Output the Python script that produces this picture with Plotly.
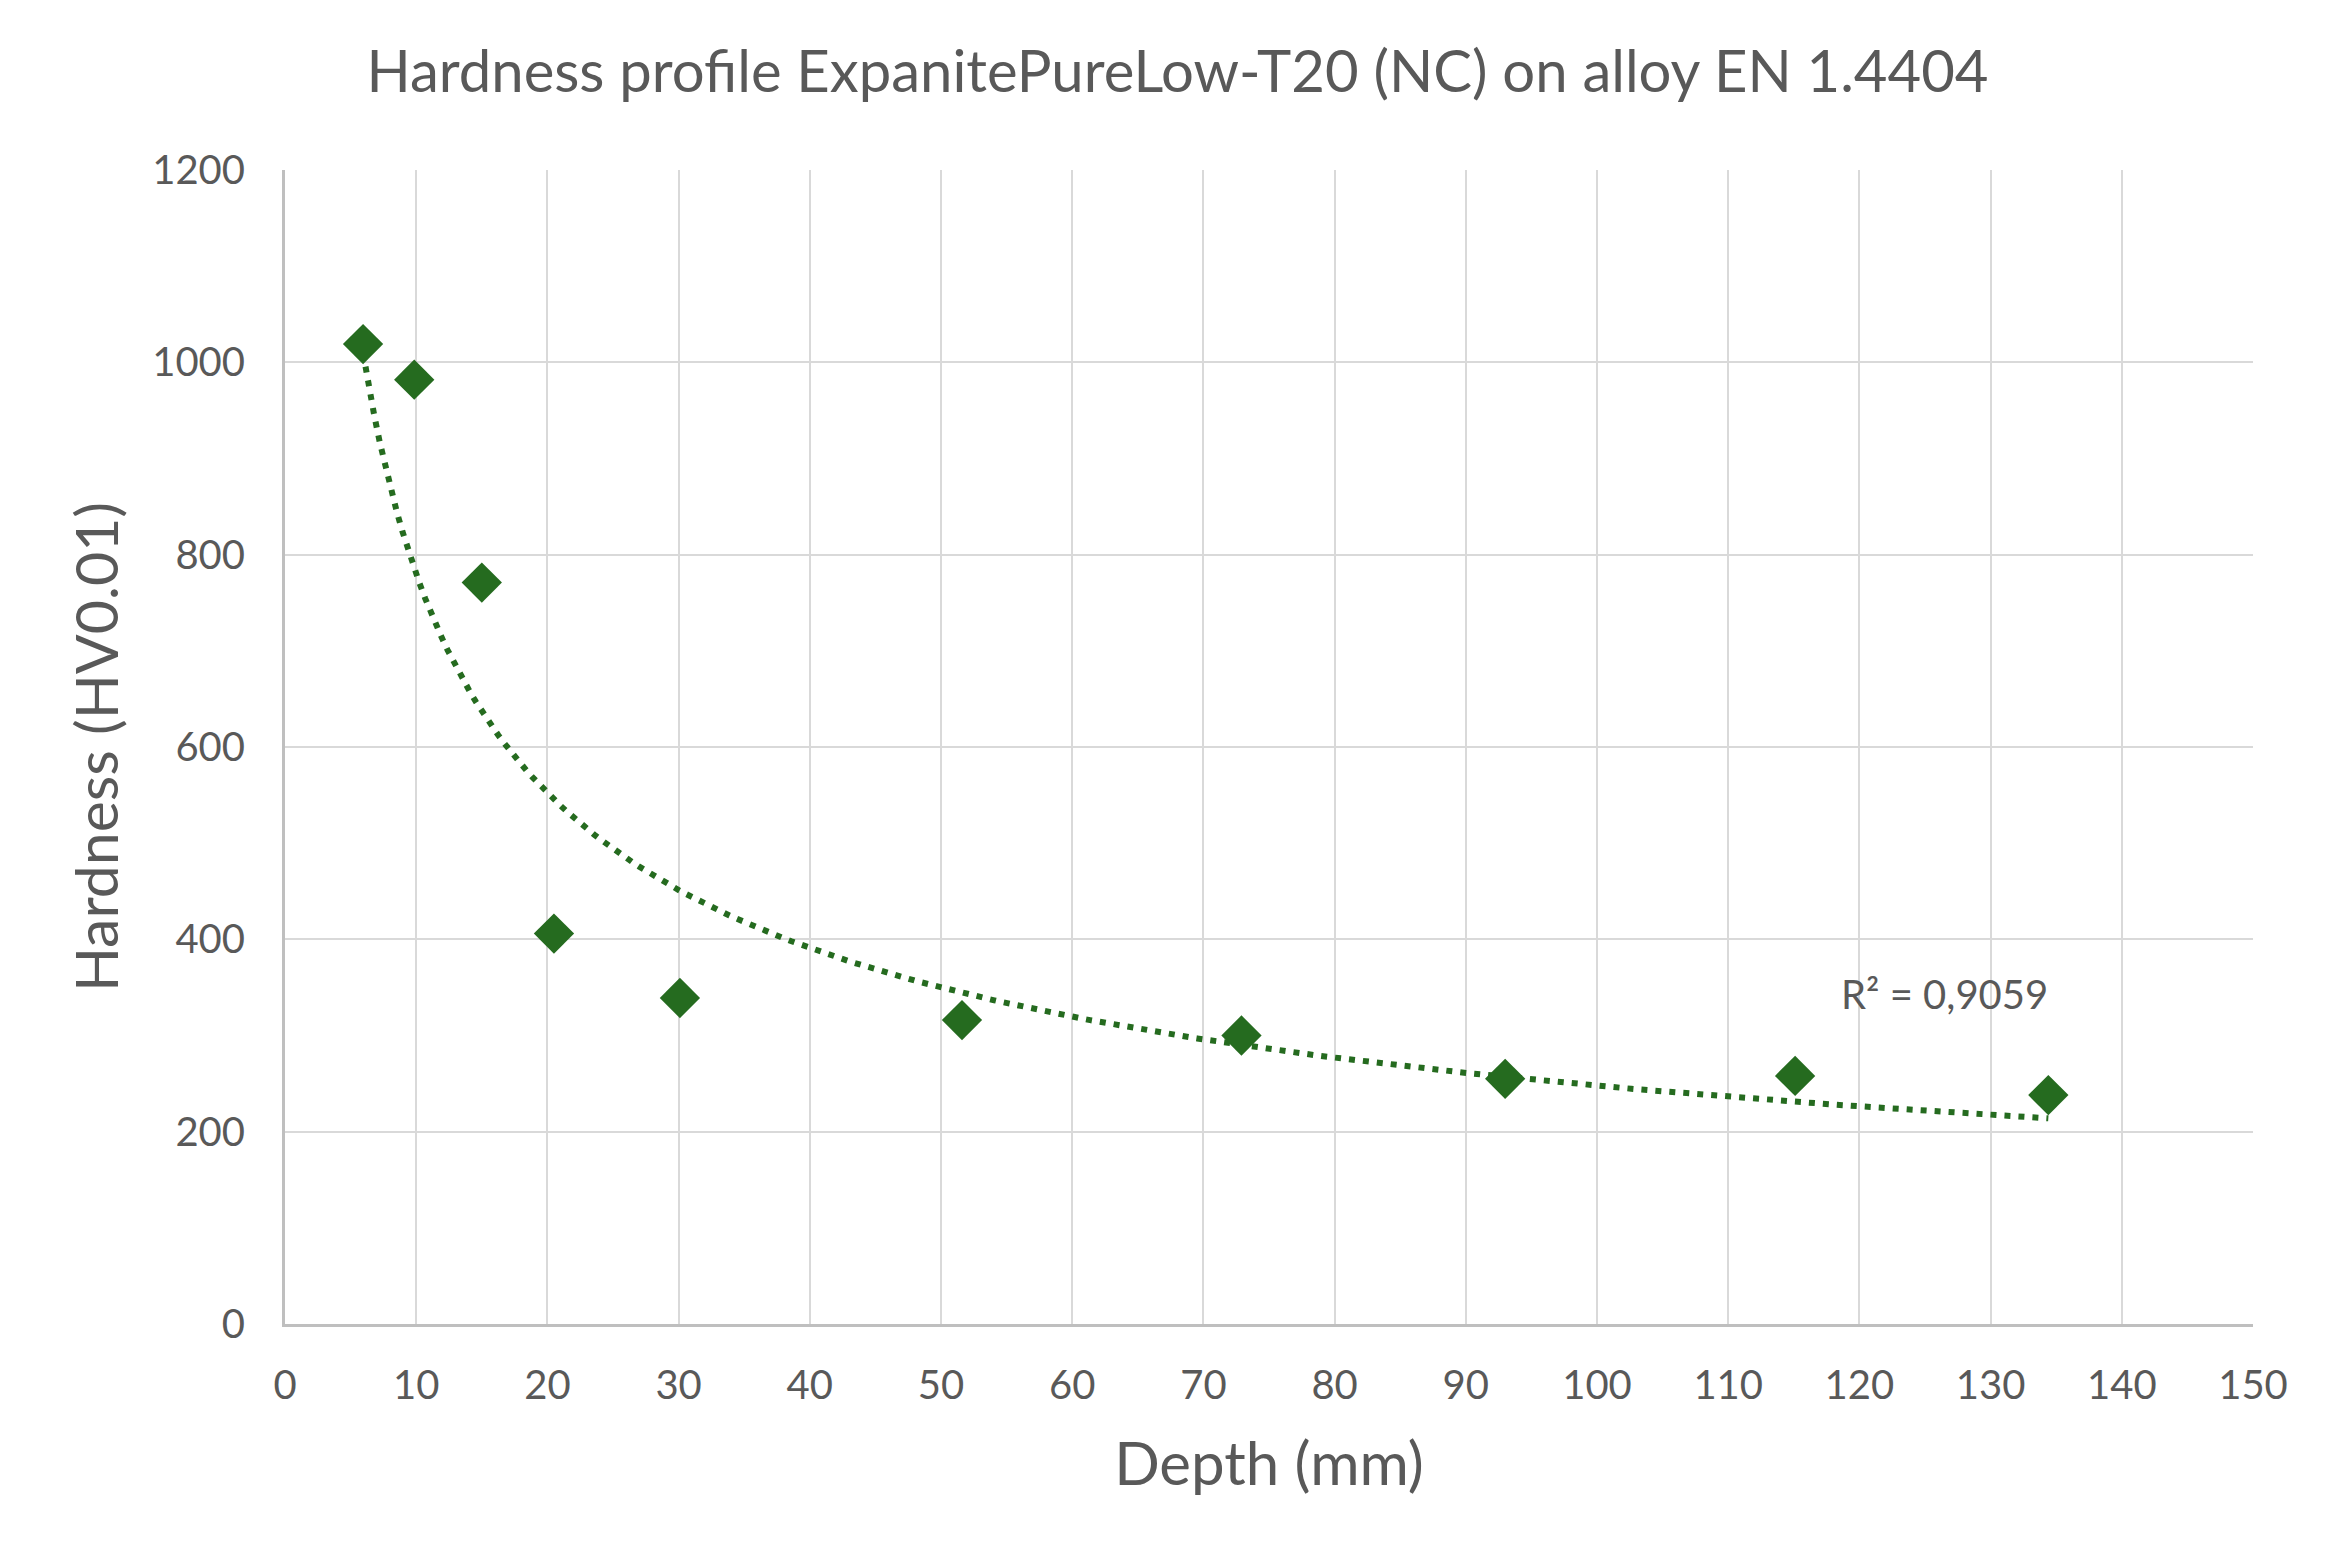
import numpy as np
import plotly.graph_objects as go

# measured hardness profile
depth = [5.95, 9.85, 15.0, 20.5, 30.1, 51.6, 72.9, 93.0, 115.1, 134.4]
hardness = [1019, 982, 771, 406, 339, 316, 300, 255, 258, 238]
r2_label = "R² = 0,9059"

x_ticks = list(range(0, 151, 10))
y_ticks = list(range(0, 1201, 200))

GREEN = "#256B1F"
TXT = "#595959"

# power trendline (least squares on log-log, like Excel)
k, lnc = np.polyfit(np.log(depth), np.log(hardness), 1)
xt = np.linspace(min(depth), max(depth), 300)
yt = np.exp(lnc) * xt ** k

fig = go.Figure()
fig.add_trace(go.Scatter(x=xt, y=yt, mode="lines",
                         line=dict(color=GREEN, width=6, dash="6px,8px"),
                         showlegend=False, hoverinfo="skip"))
fig.add_trace(go.Scatter(x=depth, y=hardness, mode="markers",
                         marker=dict(symbol="diamond", size=31, color=GREEN),
                         showlegend=False))

fig.add_annotation(x=126.5, y=343, text=r2_label, showarrow=False,
                   font=dict(size=40, color=TXT))

fig.update_layout(
    width=2339, height=1559,
    paper_bgcolor="white", plot_bgcolor="white",
    font=dict(family="Lato, Open Sans, sans-serif", color=TXT),
    title=dict(text="Hardness profile ExpanitePureLow-T20 (NC) on alloy EN 1.4404",
               x=0.5, xanchor="center", y=1 - 64 / 1559, yanchor="middle",
               font=dict(size=58, color=TXT)),
    margin=dict(l=277, r=94, t=162, b=243),
)
fig.update_xaxes(range=[0, 150], tickvals=x_ticks, showgrid=True,
                 gridcolor="#D9D9D9", gridwidth=2, zeroline=False,
                 showline=True, linecolor="#BFBFBF", linewidth=3,
                 tickfont=dict(size=40, color=TXT), ticks="", ticklabelstandoff=24,
                 title=dict(text="Depth (mm)", font=dict(size=60, color=TXT), standoff=36))
fig.update_yaxes(range=[0, 1200], tickvals=y_ticks, showgrid=True,
                 gridcolor="#D9D9D9", gridwidth=2, zeroline=False,
                 showline=True, linecolor="#BFBFBF", linewidth=3,
                 tickfont=dict(size=40, color=TXT), ticks="", ticklabelstandoff=29,
                 title=dict(text="Hardness (HV0.01)", font=dict(size=59, color=TXT), standoff=15))

fig.write_html("out.html")
